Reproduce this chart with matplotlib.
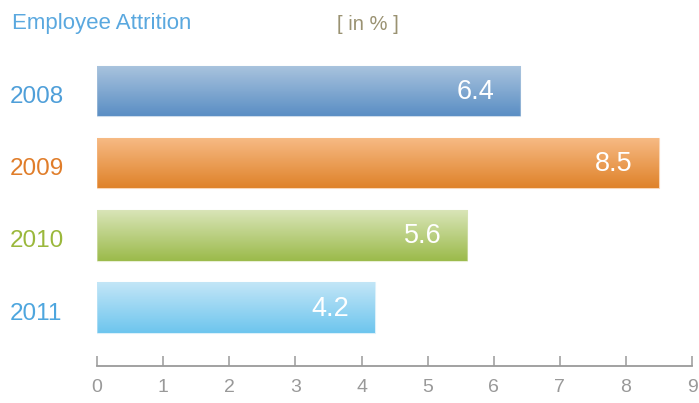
import numpy as np
import matplotlib
matplotlib.use("Agg")
import matplotlib.pyplot as plt
from matplotlib.colors import LinearSegmentedColormap
import matplotlib.transforms as mtransforms

years = ["2008", "2009", "2010", "2011"]
attrition = [6.4, 8.5, 5.6, 4.2]
xticks = [0, 1, 2, 3, 4, 5, 6, 7, 8, 9]

# (top colour, bottom colour, year label colour)
palette = [
    ("#aac4de", "#5a8ec4", "#4f9fd9"),
    ("#f7bb86", "#df8229", "#e07d2a"),
    ("#d9e5b8", "#9bba4a", "#9bb83c"),
    ("#c3e6f7", "#6dc5ee", "#4ea6de"),
]

plt.rcParams["font.family"] = ["Liberation Sans", "DejaVu Sans"]

fig = plt.figure(figsize=(6.99, 4.03), dpi=100)
ax = fig.add_axes([0.139, 0.0918, 0.851, 0.7717])

n = len(years)
ypos = np.arange(n)[::-1]
bar_h = 0.7

for y, v, (top, bot, lab), yr in zip(ypos, attrition, palette, years):
    bars = ax.barh(y, v, height=bar_h, color="none", edgecolor="none", zorder=2)
    rect = bars.patches[0]
    cmap = LinearSegmentedColormap.from_list("g", [bot, top])
    grad = np.linspace(0, 1, 256).reshape(-1, 1)
    im = ax.imshow(grad, cmap=cmap, aspect="auto", origin="lower",
                   extent=(0, v, y - bar_h / 2, y + bar_h / 2), zorder=2)
    im.set_clip_path(rect)
    ax.barh(y, v, height=bar_h, color="none", edgecolor=top, linewidth=0.8,
            alpha=0.6, zorder=3)
    # value label inside the bar end
    off = mtransforms.offset_copy(ax.transData, fig=fig, x=-26, y=-1, units="dots")
    ax.text(v, y, f"{v:.1f}", transform=off, ha="right", va="center",
            color="white", fontsize=19.5, zorder=4)
    # year label on the left
    tr = mtransforms.blended_transform_factory(fig.transFigure, ax.transData)
    tr = tr + mtransforms.ScaledTranslation(0, -6 / 100, fig.dpi_scale_trans)
    ax.text(10 / 699, y, yr, transform=tr, ha="left", va="center",
            color=lab, fontsize=17.5)

ax.set_xlim(0, 9)
ax.set_ylim(-0.81, 3.5)
ax.set_xticks(xticks)
ax.set_xticklabels([str(t) for t in xticks])
ax.set_yticks([])
for s in ["top", "right", "left"]:
    ax.spines[s].set_visible(False)
ax.spines["bottom"].set_color("#9a9a9a")
ax.spines["bottom"].set_linewidth(1.3)
ax.tick_params(axis="x", direction="in", length=7, width=1.1, color="#9a9a9a",
               labelcolor="#999999", labelsize=14, pad=9)

fig.text(12 / 699, 1 - 24 / 403, "Employee Attrition", color="#5aa8df",
         fontsize=16, ha="left", va="center")
fig.text(337 / 699, 1 - 24 / 403, "[ in % ]", color="#9a9272",
         fontsize=14.5, ha="left", va="center")

fig.savefig("out.png", dpi=100)
